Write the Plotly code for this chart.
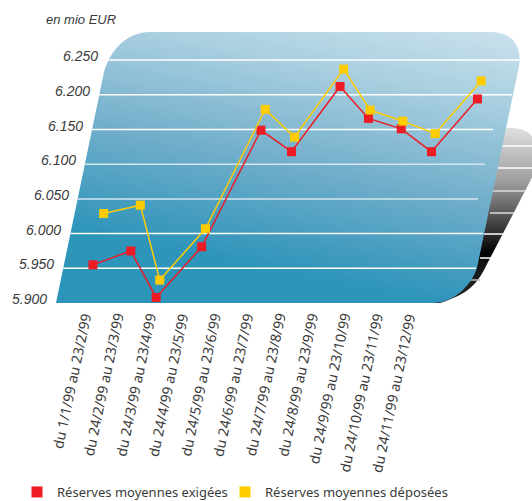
import base64
import plotly.graph_objects as go

categories = ["du 1/1/99 au 23/2/99", "du 24/2/99 au 23/3/99", "du 24/3/99 au 23/4/99",
              "du 24/4/99 au 23/5/99", "du 24/5/99 au 23/6/99", "du 24/6/99 au 23/7/99",
              "du 24/7/99 au 23/8/99", "du 24/8/99 au 23/9/99", "du 24/9/99 au 23/10/99",
              "du 24/10/99 au 23/11/99", "du 24/11/99 au 23/12/99"]
exigees = [5955, 5975, 5908, 5981, 6149, 6118, 6212, 6166, 6151, 6118, 6194]
deposees = [6029, 6041, 5933, 6007, 6179, 6139, 6237, 6178, 6162, 6144, 6220]
y_ticks = [5900, 5950, 6000, 6050, 6100, 6150, 6200, 6250]
y_labels = ["5.900", "5.950", "6.000", "6.050", "6.100", "6.150", "6.200", "6.250"]

W, H = 532, 501
PX_PER_UNIT = 34.7 / 50       # vertical scale of the value axis
Y0_PX = 303                   # pixel row of 5.900
X0_PX, STEP = 85, 35          # pixel column of category 0 on the base line, and spacing
SKEW = 0.208                  # the plot plane leans to the right as values grow


def sx(i, v):
    """Category position sheared by the value, as the slanted plane requires."""
    return i + SKEW * PX_PER_UNIT * (v - y_ticks[0]) / STEP


x_range = [-X0_PX / STEP, (W - X0_PX) / STEP]
y_range = [y_ticks[0] - (H - Y0_PX) / PX_PER_UNIT, y_ticks[0] + Y0_PX / PX_PER_UNIT]

svg = f"""<svg xmlns='http://www.w3.org/2000/svg' width='{W}' height='{H}' viewBox='0 0 {W} {H}'>
<defs>
<linearGradient id='b' gradientUnits='userSpaceOnUse' x1='60' y1='228' x2='115' y2='-48'>
<stop offset='0' stop-color='#2d94ba'/><stop offset='0.37' stop-color='#6fadca'/>
<stop offset='0.74' stop-color='#a9cfe0'/><stop offset='1' stop-color='#cbe1ec'/>
</linearGradient>
<linearGradient id='g' gradientUnits='userSpaceOnUse' x1='0' y1='128' x2='0' y2='303'>
<stop offset='0' stop-color='#dedede'/><stop offset='0.3' stop-color='#a0a0a0'/>
<stop offset='0.72' stop-color='#000000'/><stop offset='0.77' stop-color='#141414'/>
<stop offset='1' stop-color='#2a2626'/>
</linearGradient>
</defs>
<path d='M470,128 L510,128 C528,128 540,135 537,168 L486,266 C476,288 462,296 440,303 L430,303 Z' fill='url(#g)'/>
<g stroke='#ffffff' stroke-width='1.5'>
<path d='M490,146 H540'/><path d='M490,168 H540'/><path d='M490,191 H526' stroke='#dddddd'/>
<path d='M490,213 H514' stroke='#dddddd'/><path d='M480,234 H503'/><path d='M480,258 H492'/>
<path d='M470,280 H480' stroke='#bbbbbb'/>
</g>
<path d='M56,303 L104,72 C110,50 127,32 150,32 L490,32 C512,32 522,45 519,66 L477,268 C470,288 452,303 432,303 Z' fill='url(#b)'/>
</svg>"""
src = "data:image/svg+xml;base64," + base64.b64encode(svg.encode()).decode()

fig = go.Figure()

# grid lines: start on the slanted edge, end where the panel shows them ending
grid_right_px = [None, 476, 483, 478, 485, 493, 512, 519]
for v, r in zip(y_ticks, grid_right_px):
    if r is None:
        continue
    x1 = (r - X0_PX - SKEW * PX_PER_UNIT * (v - y_ticks[0])) / STEP
    fig.add_trace(go.Scatter(x=[sx(-29 / STEP, v), sx(x1, v)], y=[v, v], mode="lines",
                             line=dict(color="#ffffff" if v not in (6050, 6100) else "#d5e6ee", width=1.5),
                             showlegend=False, hoverinfo="skip"))

idx = list(range(len(categories)))
fig.add_trace(go.Scatter(x=[sx(i, v) for i, v in zip(idx, exigees)], y=exigees, mode="lines+markers",
                         line=dict(color="#ed1c24", width=1.5),
                         marker=dict(symbol="square", size=9, color="#ed1c24"),
                         name="Réserves moyennes exigées", showlegend=False))
fig.add_trace(go.Scatter(x=[sx(i, v) for i, v in zip(idx, deposees)], y=deposees, mode="lines+markers",
                         line=dict(color="#ffcc00", width=1.5),
                         marker=dict(symbol="square", size=9, color="#ffcc00"),
                         name="Réserves moyennes déposées", showlegend=False))
fig.add_trace(go.Scatter(x=[None], y=[None], mode="markers", name="Réserves moyennes exigées", legend="legend",
                         marker=dict(symbol="square", size=11, color="#ed1c24")))
fig.add_trace(go.Scatter(x=[None], y=[None], mode="markers", name="Réserves moyennes déposées", legend="legend2",
                         marker=dict(symbol="square", size=11, color="#ffcc00")))

annotations = []
TXT = "#3a3a3a"
for v, t in zip(y_ticks, y_labels):
    annotations.append(dict(x=(49 + SKEW * PX_PER_UNIT * (v - y_ticks[0])) / W, xref="paper", y=v + 5.5, yref="y",
                            text=t, showarrow=False, xanchor="right", yanchor="middle",
                            font=dict(family="Liberation Sans", size=14, color=TXT, style="italic")))
annotations.append(dict(x=44 / W, xref="paper", y=1 - 19 / H, yref="paper", text="en mio EUR", showarrow=False,
                        xanchor="left", yanchor="middle",
                        font=dict(family="Liberation Sans", size=13, color=TXT, style="italic")))
for i, c in enumerate(categories):
    annotations.append(dict(x=(98 + 32.4 * i) / W, xref="paper", y=1 - 309 / H, yref="paper", text=c,
                            showarrow=False, textangle=-78, xanchor="right", yanchor="top",
                            font=dict(family="Noto Sans", size=14, color=TXT)))

legend_style = dict(orientation="h", xanchor="left", yanchor="middle", y=1 - 492 / H, itemwidth=30,
                    bgcolor="rgba(0,0,0,0)", font=dict(family="Noto Sans", size=13, color=TXT))
fig.update_layout(
    width=W, height=H, margin=dict(l=0, r=0, t=0, b=0, autoexpand=False),
    paper_bgcolor="#ffffff", plot_bgcolor="rgba(0,0,0,0)",
    xaxis=dict(range=x_range, visible=False, fixedrange=True),
    yaxis=dict(range=y_range, visible=False, fixedrange=True),
    legend=dict(x=17 / W, **legend_style),
    legend2=dict(x=225 / W, **legend_style),
    images=[dict(source=src, xref="paper", yref="paper", x=0, y=1, sizex=1, sizey=1,
                 xanchor="left", yanchor="top", sizing="stretch", layer="below")],
    annotations=annotations,
    showlegend=True,
)
fig.write_html("out.html", config={"displayModeBar": False},
               post_script="document.body.style.margin='0';document.body.style.overflow='hidden';")
